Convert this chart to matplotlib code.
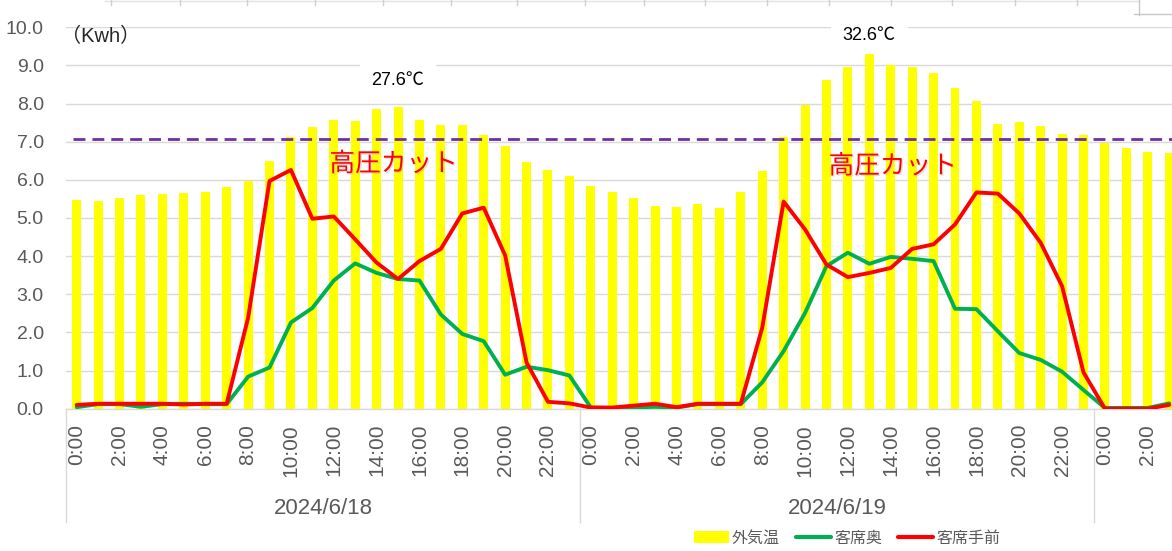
import matplotlib
matplotlib.use("Agg")
import matplotlib.pyplot as plt
import matplotlib.patheffects as pe
from matplotlib.lines import Line2D
from matplotlib.patches import Patch
from matplotlib.transforms import blended_transform_factory

plt.rcParams['font.family'] = ['Liberation Sans', 'Noto Sans CJK JP', 'DejaVu Sans']

# ---- data -------------------------------------------------------------
# outside temperature bars (plotted on the kWh scale)
outside_temp = [5.47, 5.44, 5.52, 5.59, 5.62, 5.65, 5.68, 5.81, 5.97, 6.49, 7.12, 7.39,
                7.57, 7.55, 7.86, 7.91, 7.57, 7.44, 7.44, 7.18, 6.89, 6.47, 6.26, 6.10,
                5.83, 5.68, 5.52, 5.31, 5.28, 5.36, 5.26, 5.68, 6.23, 7.12, 7.97, 8.62,
                8.97, 9.31, 9.02, 8.97, 8.81, 8.41, 8.07, 7.47, 7.52, 7.41, 7.20, 7.18,
                6.97, 6.83, 6.73, 6.70]
seat_back = [0.04, 0.12, 0.12, 0.05, 0.12, 0.13, 0.12, 0.12, 0.84, 1.08, 2.26, 2.64,
             3.36, 3.81, 3.56, 3.40, 3.36, 2.47, 1.96, 1.77, 0.89, 1.10, 1.01, 0.87,
             0.03, 0.02, 0.03, 0.05, 0.03, 0.12, 0.12, 0.12, 0.69, 1.51, 2.51, 3.74,
             4.09, 3.80, 3.98, 3.93, 3.87, 2.62, 2.61, 2.03, 1.46, 1.28, 0.97, 0.49,
             0.02, 0.02, 0.02, 0.14]
seat_front = [0.10, 0.13, 0.13, 0.13, 0.13, 0.11, 0.13, 0.13, 2.38, 5.97, 6.26, 4.98,
              5.04, 4.44, 3.83, 3.40, 3.87, 4.19, 5.12, 5.27, 4.02, 1.21, 0.18, 0.14,
              0.03, 0.03, 0.08, 0.13, 0.04, 0.13, 0.13, 0.13, 2.12, 5.43, 4.70, 3.78,
              3.45, 3.56, 3.69, 4.19, 4.31, 4.83, 5.67, 5.64, 5.12, 4.35, 3.21, 0.95,
              0.00, 0.00, 0.00, 0.10]
hour_labels = ["0:00", "", "2:00", "", "4:00", "", "6:00", "", "8:00", "", "10:00", "",
               "12:00", "", "14:00", "", "16:00", "", "18:00", "", "20:00", "", "22:00", "",
               "0:00", "", "2:00", "", "4:00", "", "6:00", "", "8:00", "", "10:00", "",
               "12:00", "", "14:00", "", "16:00", "", "18:00", "", "20:00", "", "22:00", "",
               "0:00", "", "2:00", ""]
dates = ["2024/6/18", "2024/6/19"]
threshold = 7.07
peak_labels = ["27.6℃", "32.6℃"]
peak_index = [15, 37]
cut_label = "高圧カット"

series_names = ["外気温", "客席奥", "客席手前"]
c_yellow, c_green, c_red = "#FFFF00", "#00B050", "#FF0000"
tick_color = "#595959"
grid_color = "#D9D9D9"

# ---- figure -----------------------------------------------------------
W, H = 1172, 551
fig = plt.figure(figsize=(W / 100, H / 100), dpi=100)
ax_l, ax_r, ax_top, ax_bot = 66, 1172, 27.3, 408.7
ax = fig.add_axes([ax_l / W, 1 - ax_bot / H, (ax_r - ax_l) / W, (ax_bot - ax_top) / H])

x = list(range(len(outside_temp)))
ax.bar(x, outside_temp, width=0.42, color=c_yellow, zorder=2)
ax.plot(x, seat_back, color=c_green, lw=2.8, solid_joinstyle='round',
        solid_capstyle='round', zorder=4)
ax.plot(x, seat_front, color=c_red, lw=2.8, solid_joinstyle='round',
        solid_capstyle='round', zorder=5)

ax.set_xlim(-0.5, 51.13)
ax.set_ylim(0, 10)
ax.set_yticks([i for i in range(11)])
ax.set_yticklabels([f"{v:.1f}" for v in range(11)])
ax.yaxis.grid(True, color=grid_color, lw=1.0, zorder=0)
ax.set_axisbelow(True)
for s in ['left', 'right', 'top']:
    ax.spines[s].set_visible(False)
ax.spines['bottom'].set_color(grid_color)
ax.spines['bottom'].set_linewidth(1.0)
ax.tick_params(axis='y', length=0, pad=16, labelsize=14, labelcolor=tick_color)
ax.set_xticks(x)
ax.set_xticklabels(hour_labels, rotation=90, fontsize=15, color=tick_color)
ax.tick_params(axis='x', length=0, pad=11)

# threshold line
ax.axhline(threshold, xmin=0.006, xmax=1, color="#7030A0", lw=2.0,
           linestyle=(0, (4.3, 2.5)), zorder=3)

# date labels & separators
bt = blended_transform_factory(ax.transData, fig.transFigure)
for d, name in enumerate(dates):
    ax.text(d * 24 + 11.5, 1 - 508 / H, name, transform=bt, ha='center', va='center',
            fontsize=16, color=tick_color, clip_on=False)
for sx in [-0.5, 23.5, 47.5]:
    fig.add_artist(Line2D([sx, sx], [1 - ax_bot / H, 1 - 522 / H], transform=bt,
                          color=grid_color, lw=1.0))

# annotations
ax.text(-0.72, 9.76, "（Kwh）", fontsize=14.5, color="#262626", ha='left', va='center')
peak_y = [8.60, 9.78]
for lab, idx, py in zip(peak_labels, peak_index, peak_y):
    ax.text(idx, py, lab, fontsize=13, color="#000000", ha='center', va='center', zorder=1.5,
            bbox=dict(boxstyle='square,pad=0.65', fc='white', ec='none'))
shadow = [pe.withSimplePatchShadow(offset=(1.0, -1.0), shadow_rgbFace='#AAAAAA', alpha=0.35)]
for cx, cy in [(14.8, 6.41), (38.1, 6.35)]:
    ax.text(cx, cy, cut_label, fontsize=18.5, color=c_red, ha='center', va='center',
            zorder=6, path_effects=shadow)

# legend
handles = [Patch(facecolor=c_yellow, edgecolor='none'),
           Line2D([0], [0], color=c_green, lw=3, solid_capstyle='round'),
           Line2D([0], [0], color=c_red, lw=3, solid_capstyle='round')]
fig.legend(handles, series_names, loc='center', bbox_to_anchor=(847 / W, 1 - 538 / H),
           ncol=3, frameon=False, fontsize=11.5, labelcolor=tick_color,
           handlelength=2.2, handletextpad=0.2, columnspacing=1.0)

# faint spreadsheet cell borders at the very top
fig.add_artist(Line2D([105 / W, 1139 / W], [1 - 1 / H, 1 - 1 / H], color='#E3E3E3', lw=1))
for tx in [111, 180, 247, 315, 383, 451, 517, 585, 644, 705, 767, 829, 891, 952, 1015, 1077]:
    fig.add_artist(Line2D([tx / W, tx / W], [1 - 0 / H, 1 - 5 / H], color='#D0D0D0', lw=1))
fig.add_artist(Line2D([1139 / W, 1139 / W], [1, 1 - 15 / H], color='#C8C8C8', lw=1))
fig.add_artist(Line2D([1134 / W, 1], [1 - 14 / H, 1 - 14 / H], color='#C8C8C8', lw=1))

fig.savefig("out.png", dpi=100)
